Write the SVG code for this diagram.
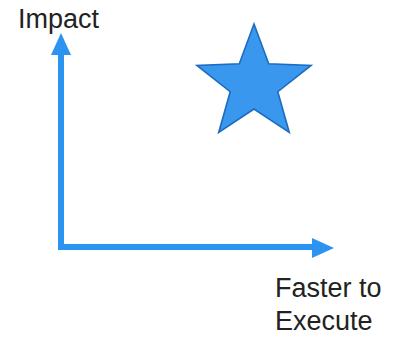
<svg xmlns="http://www.w3.org/2000/svg" width="405" height="340" viewBox="0 0 405 340">
  <style>
    .label { font-family: "Liberation Sans", Arial, sans-serif; font-size: 27px; fill: #222; }
    .axis { stroke: #2b93f0; stroke-width: 6; fill: none; }
    .head { fill: #2b93f0; }
    .star { fill: #3a97ee; stroke: #1d6cbf; stroke-width: 1.6; stroke-linejoin: miter; }
  </style>
  <rect width="405" height="340" fill="#ffffff"/>

  <!-- axes -->
  <g id="connectors">
    <path class="axis" d="M61 54 V247 H313"/>
    <polygon class="head" points="61,33 51,55 71,55"/>
    <polygon class="head" points="334,248 312,238 312,258"/>
  </g>

  <!-- five-point star, centre (254,84), outer radius 60, inner radius 25 -->
  <g id="star">
    <polygon class="star" points="254,24 268.7,63.8 311.1,65.5 277.8,91.7 289.3,132.5 254,109 218.7,132.5 230.2,91.7 196.9,65.5 239.3,63.8"/>
  </g>

  <g id="label-impact">
    <text class="label" x="18" y="28">Impact</text>
  </g>

  <g id="label-faster">
    <text class="label" x="275" y="297">Faster to</text>
    <text class="label" x="275" y="330">Execute</text>
  </g>
</svg>
